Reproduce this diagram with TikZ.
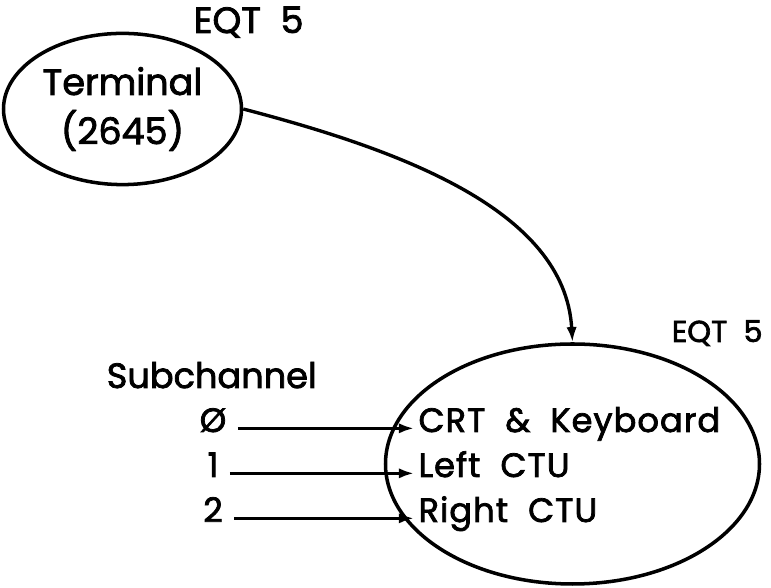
\documentclass[tikz,border=0pt]{standalone}
\usepackage{fontspec}
\setmainfont{Poppins}[FakeBold=2.2]
\usepackage{tikz}
\usetikzlibrary{arrows.meta,positioning,shapes.geometric}

\begin{document}
\begin{tikzpicture}[
  >=Latex, line width=2.5pt,
  % ellipses
  unit/.style={ellipse, draw=black, line width=2.5pt, inner sep=0pt},
  % text
  toplabel/.style={font=\fontsize{26}{35}\selectfont, inner sep=0pt},
  sublabel/.style={font=\fontsize{25}{30}\selectfont, inner sep=0pt},
  eqtlabel/.style={font=\fontsize{21.5}{28}\selectfont, inner sep=0pt},
  rowlabel/.style={font=\fontsize{24}{30}\selectfont\addfontfeatures{LetterSpace=3},
                   inner sep=2pt, text height=0.72em, text depth=0.2em},
  % connectors
  feed/.style={-{Latex[length=3.8mm,width=2.6mm]}, line width=2.4pt,
               shorten <=5pt},
  link/.style={-{Latex[length=3.8mm,width=2.6mm]}, line width=2.4pt}
]
  \useasboundingbox (0,0) rectangle (19.275,14.7);

  % =============================================================
  % Terminal (top)
  % =============================================================
  \node[unit, minimum width=5.95cm, minimum height=3.78cm,
        toplabel, align=center] (term) at (3.0625, 11.975)
        {Terminal\\(2645)};
  \node[toplabel, anchor=base west] (eqtTop) at (4.8, 13.875) {EQT\ \ 5};

  % =============================================================
  % Device (bottom)
  % =============================================================
  \node[unit, minimum width=9.35cm, minimum height=6.0cm] (dev)
        at (14.3125, 3.1) {};
  \node[eqtlabel, anchor=base west] (eqtDev) at (16.75, 6.15) {EQT\ \ 5};

  % --- subchannel rows inside the device ---
  \node[rowlabel, anchor=base west] (crt)    at (10.35, 3.9)   {CRT \ \& \ Keyboard};
  \node[rowlabel, anchor=base west] (leftc)  at (10.35, 2.775) {Left \ CTU};
  \node[rowlabel, anchor=base west] (rightc) at (10.35, 1.65)  {Right \ CTU};

  % --- subchannel numbers ---
  \node[sublabel, anchor=base west] (subch) at (2.625, 5.0) {Subchannel};
  \node[rowlabel, anchor=base] (sub0) at (5.325, 3.9)   {Ø};
  \node[rowlabel, anchor=base] (sub1) at (5.325, 2.775) {1};
  \node[rowlabel, anchor=base] (sub2) at (5.325, 1.65)  {2};

  \draw[feed] (sub0.east) -- (crt.west);
  \draw[feed] (sub1.east) -- (leftc.west);
  \draw[feed] (sub2.east) -- (rightc.west);

  % Terminal -> device
  \draw[link] (term.east) .. controls (10.0, 10.95) and (14.125, 9.45) .. (dev.north);
\end{tikzpicture}
\end{document}
